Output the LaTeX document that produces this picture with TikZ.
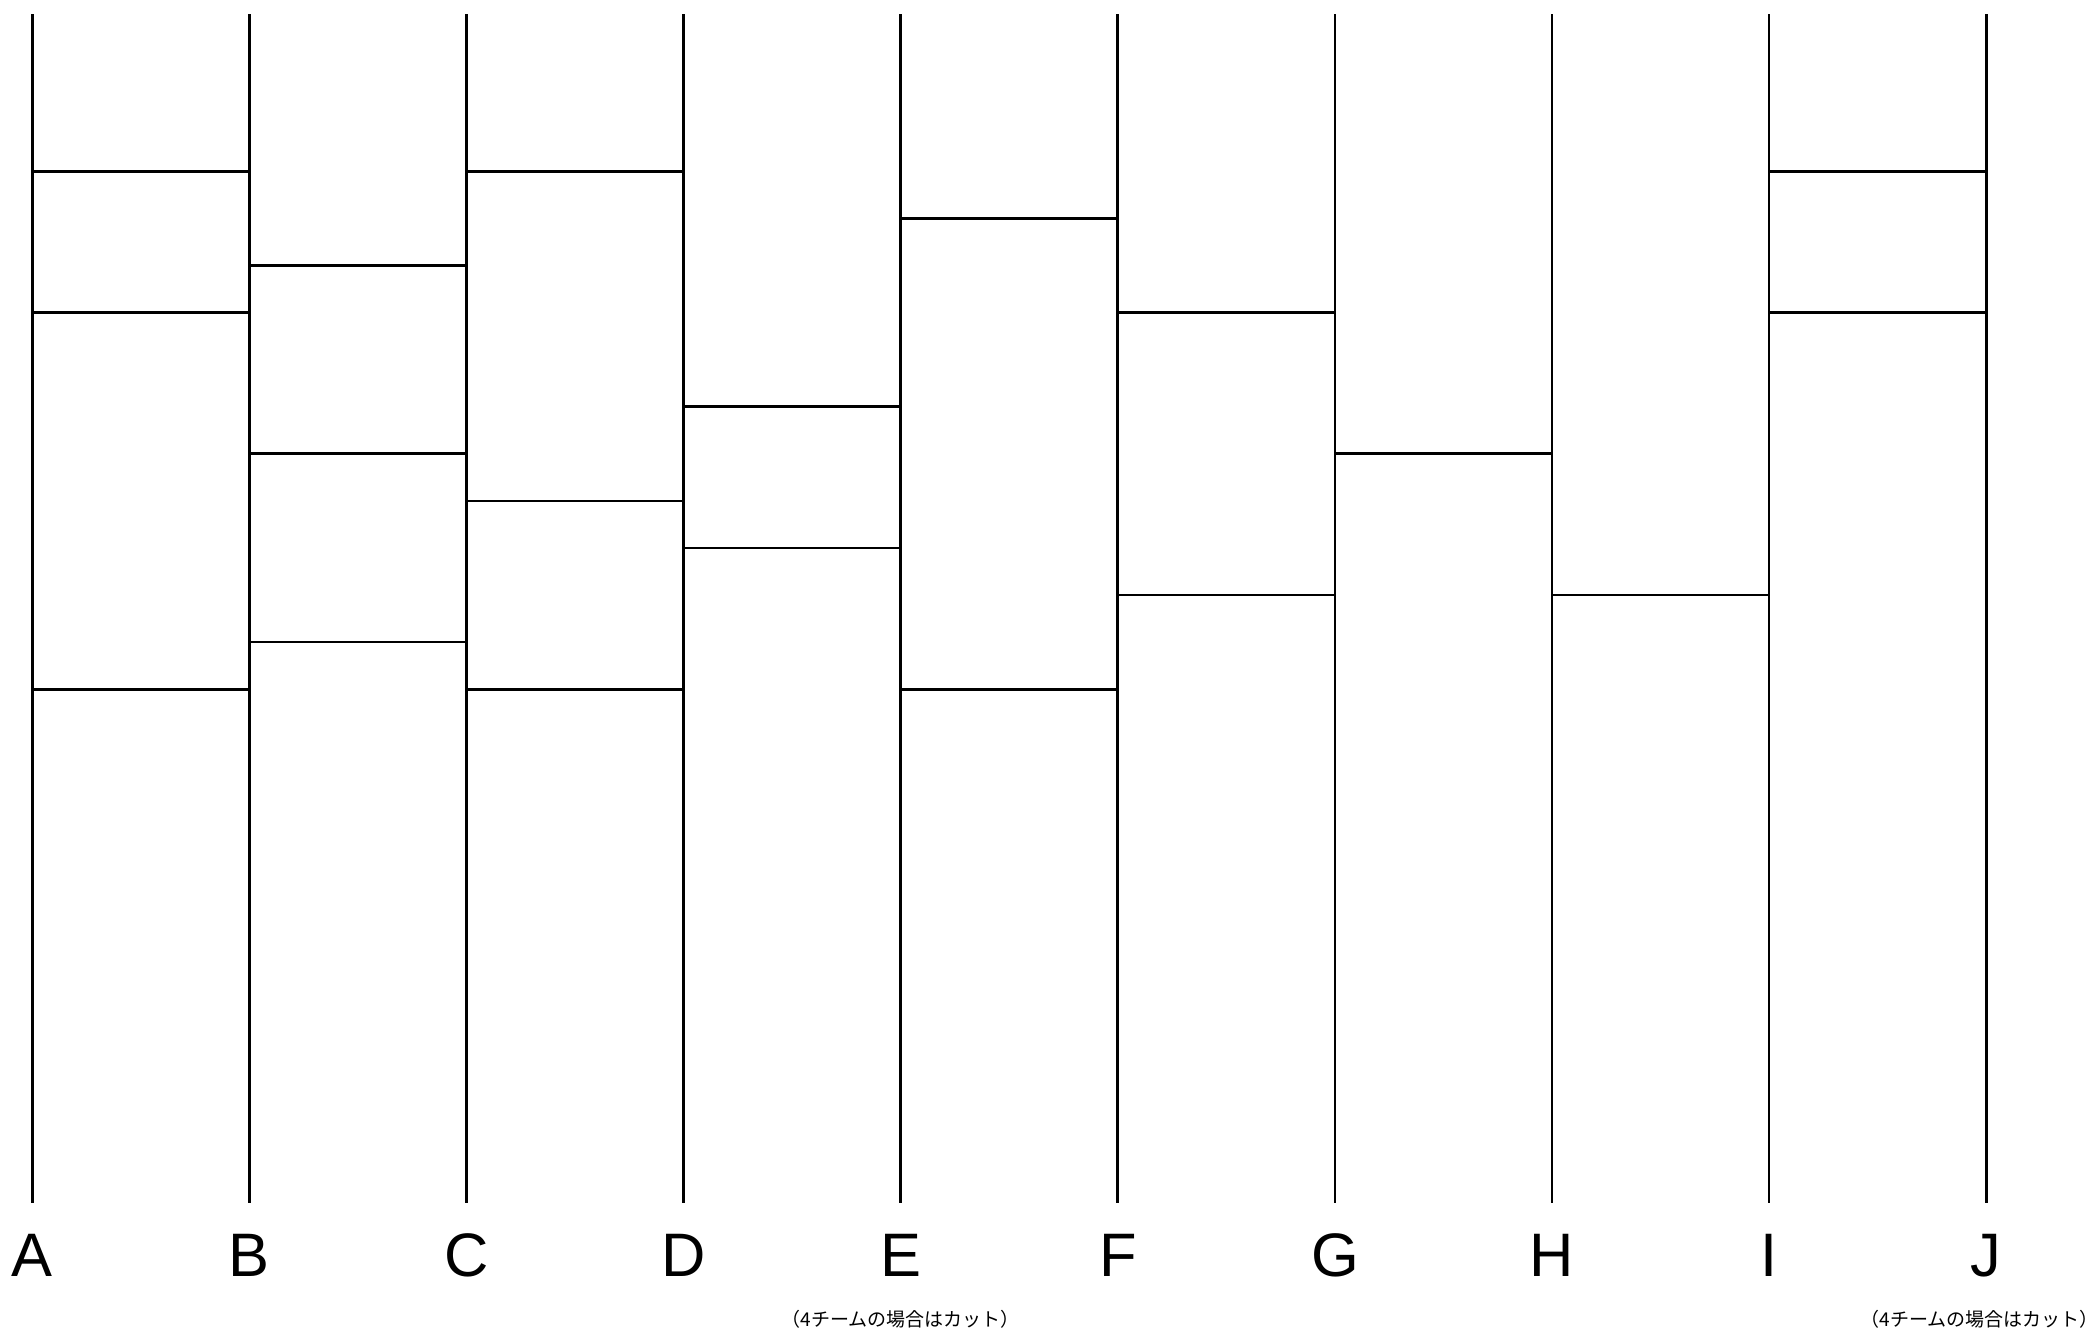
\documentclass[tikz,border=0pt]{standalone}
\usepackage{fontspec}
\setmainfont{Liberation Sans}
\newfontfamily\jpfont{Noto Sans CJK JP}
\begin{document}
\begin{tikzpicture}[x=0.5pt,y=-0.5pt,
  rail/.style={draw=black,line width=1.35pt},
  rung/.style={draw=black,line width=1.35pt},
  lbl/.style={font=\fontsize{30.7}{34}\selectfont, anchor=base, inner sep=0pt},
  note/.style={font=\jpfont\fontsize{9.5}{11}\selectfont, inner sep=0pt}]
\useasboundingbox (0,0) rectangle (2100,1334);
\foreach \n [count=\i from 0] in {A,B,C,D,E,F,G,H,I,J} {
  \pgfmathsetmacro\xx{32.3+217.1*\i}
  \coordinate (t\n) at (\xx,14);
  \coordinate (b\n) at (\xx,1203);
  \draw[rail] (t\n) -- (b\n);
  \node[lbl] (l\n) at (\xx,1276) {\n};
}
\foreach \a/\b/\k in {A/B/0,A/B/3,A/B/11,
                      B/C/2,B/C/6,B/C/10,
                      C/D/0,C/D/7,C/D/11,
                      D/E/5,D/E/8,
                      E/F/1,E/F/11,
                      F/G/3,F/G/9,
                      G/H/6,
                      H/I/9,
                      I/J/0,I/J/3} {
  \pgfmathsetmacro\yy{171.3+47.08*\k}
  \draw[rung] (t\a |- 0,\yy) -- (t\b |- 0,\yy);
}
\node[note] (nE) at (lE |- 0,1319) {（4チームの場合はカット）};
\node[note, anchor=east] (nJ) at (2099,1319) {（4チームの場合はカット）};
\end{tikzpicture}
\end{document}
